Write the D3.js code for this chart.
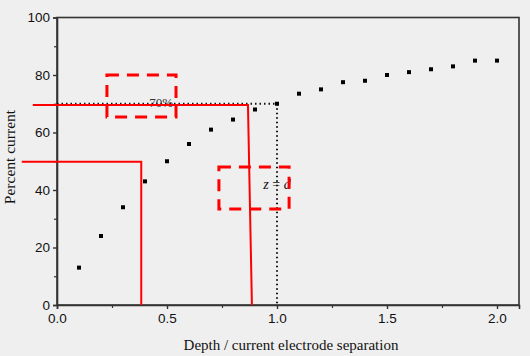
<!DOCTYPE html>
<html><head><meta charset="utf-8">
<script src="https://cdn.jsdelivr.net/npm/d3@7"></script>
<style>html,body{margin:0;padding:0;background:#efefef;}svg{display:block;}</style>
</head><body>
<svg id="c" width="530" height="356"></svg>
<script>
// ---- data ----
const depthRatio = [0.1,0.2,0.3,0.4,0.5,0.6,0.7,0.8,0.9,1.0,1.1,1.2,1.3,1.4,1.5,1.6,1.7,1.8,1.9,2.0];
const percentCurrent = [13,24,34,43,50,56,61,64.5,68,70,73.5,75,77.5,78,80,81,82,83,85,85];
const xTicks = [0,0.5,1.0,1.5,2.0];
const xTickLabels = ["0.0","0.5","1.0","1.5","2.0"];
const yTicks = [0,20,40,60,80,100];
const refLevel = [70];        // 70% reference
const refDepth = [1.0];       // z = d
// red hand annotations
const redPathA = [[-0.11,69.6],[0.868,69.6],[0.886,0]];
const redPathB = [[-0.16,49.8],[0.383,49.8],[0.383,0]];
const boxA = [[0.227,80],[0.541,65.4]];
const boxB = [[0.736,48],[1.055,33.4]];

const svg = d3.select("#c");
const x = d3.scaleLinear().domain([0,2.1]).range([57,519]);
const y = d3.scaleLinear().domain([0,100]).range([305,17.5]);

// frame
svg.append("rect").attr("x",x(0)).attr("y",y(100)).attr("width",x(2.1)-x(0)).attr("height",y(0)-y(100))
  .attr("fill","none").attr("stroke","#333").attr("stroke-width",1.6);

const sans = "Liberation Sans, Arial, sans-serif";
const serif = "Liberation Serif, Times New Roman, serif";
const xAxis = svg.append("g").attr("transform",`translate(0,${y(0)})`)
  .call(d3.axisBottom(x).tickValues(xTicks).tickFormat((d,i)=>xTickLabels[i]).tickSize(4).tickPadding(4));
const yAxis = svg.append("g").attr("transform",`translate(${x(0)},0)`)
  .call(d3.axisLeft(y).tickValues(yTicks).tickSize(4).tickPadding(3));
[xAxis,yAxis].forEach(g=>{
  g.select(".domain").attr("stroke","#333").attr("stroke-width",1.6);
  g.selectAll(".tick line").attr("stroke","#333").attr("stroke-width",1.4);
  g.selectAll("text").attr("font-family",sans).attr("font-size",13.5).attr("fill","#111");
});
// minor ticks
svg.append("g").attr("transform",`translate(0,${y(0)})`)
  .call(d3.axisBottom(x).tickValues([0.25,0.75,1.25,1.75]).tickSize(3).tickFormat(""))
  .call(g=>{g.select(".domain").remove();g.selectAll("line").attr("stroke","#333").attr("stroke-width",1.2);});
svg.append("g").attr("transform",`translate(${x(0)},0)`)
  .call(d3.axisLeft(y).tickValues([10,30,50,70,90]).tickSize(3).tickFormat(""))
  .call(g=>{g.select(".domain").remove();g.selectAll("line").attr("stroke","#333").attr("stroke-width",1.2);});

// axis titles
svg.append("text").attr("x",291).attr("y",350).attr("text-anchor","middle")
  .attr("font-family",serif).attr("font-size",15).attr("fill","#111").text("Depth / current electrode separation");
svg.append("text").attr("transform","translate(15,157) rotate(-90)").attr("text-anchor","middle")
  .attr("font-family",serif).attr("font-size",15.5).attr("fill","#111").text("Percent current");

// dotted reference lines
svg.append("line").attr("x1",x(0)).attr("x2",x(refDepth[0])).attr("y1",y(refLevel[0])).attr("y2",y(refLevel[0]))
  .attr("stroke","#111").attr("stroke-width",2).attr("stroke-dasharray","1.5,3");
svg.append("line").attr("x1",x(refDepth[0])).attr("x2",x(refDepth[0])).attr("y1",y(refLevel[0])).attr("y2",y(0))
  .attr("stroke","#111").attr("stroke-width",2).attr("stroke-dasharray","1.5,3");

// points
svg.append("g").selectAll("rect").data(depthRatio).join("rect")
  .attr("x",(d)=>x(d)-2).attr("y",(d,i)=>y(percentCurrent[i])-2).attr("width",4).attr("height",4).attr("fill","#000");

// labels
svg.append("text").attr("x",x(0.473)).attr("y",y(69.0)).attr("text-anchor","middle")
  .attr("font-family",serif).attr("font-size",13).attr("fill","#333").text("70%");
const zt = svg.append("text").attr("x",x(1.0)).attr("y",y(40.3)).attr("text-anchor","middle")
  .attr("font-family",serif).attr("font-size",14).attr("fill","#111");
zt.append("tspan").attr("font-style","italic").text("z");
zt.append("tspan").text(" = ");
zt.append("tspan").attr("font-style","italic").text("d");

// red annotations
const red = "#f00";
const line = d3.line().x(d=>x(d[0])).y(d=>y(d[1]));
[redPathA,redPathB].forEach(p=>svg.append("path").attr("d",line(p)).attr("fill","none").attr("stroke",red).attr("stroke-width",2));
[boxA,boxB].forEach(b=>svg.append("rect").attr("x",x(b[0][0])).attr("y",y(b[0][1]))
  .attr("width",x(b[1][0])-x(b[0][0])).attr("height",y(b[1][1])-y(b[0][1]))
  .attr("fill","none").attr("stroke",red).attr("stroke-width",3).attr("stroke-dasharray","12,8"));
</script>
</body></html>
